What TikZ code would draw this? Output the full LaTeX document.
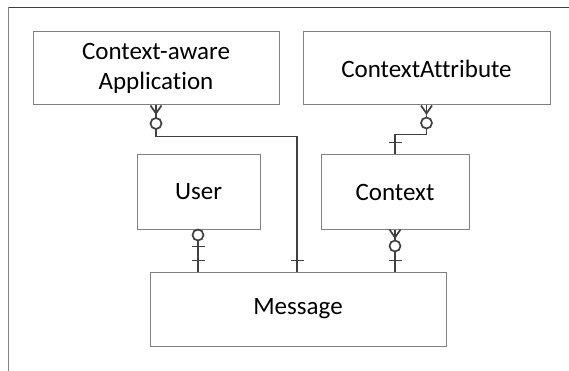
\documentclass[tikz,border=0pt]{standalone}
\usepackage{fontspec}
\setmainfont[Ligatures={NoCommon}]{Carlito}
\usetikzlibrary{calc}
\definecolor{boxgray}{HTML}{808080}
\definecolor{linegray}{HTML}{404040}
\begin{document}
\begin{tikzpicture}[x=1pt,y=-1pt,
  entity/.style={draw=boxgray, line width=1pt, fill=white, minimum height=74pt,
    inner sep=0pt, align=center, font=\fontsize{25}{30}\selectfont},
  rel/.style={draw=linegray, line width=1.7pt},
  crowfoot/.pic={\draw[rel] (-5.5,0) -- (0,8) -- (5.5,0);},
  ringmark/.pic={\draw[rel, fill=white] (0,0) circle[radius=5.5];},
  barmark/.pic={\draw[rel] (-6.5,0) -- (6.5,0);}]
\useasboundingbox (0,0) rectangle (569,371);

% page frame
\draw[draw=linegray, line width=1pt] (8,7.5) -- (569,7.5);
\draw[draw=boxgray, line width=1pt] (8,7.5) -- (8,371);

% entities
\node[entity, minimum width=246pt, minimum height=73pt] (app) at (156,68.5) {Context-aware\\Application};
\node[entity, minimum width=247pt, minimum height=73pt] (ca) at (426.5,68.5) {ContextAttribute};
\node[entity, minimum width=123pt] (user) at (198.5,192) {User};
\node[entity, minimum width=148pt] (ctx) at (395,192) {Context};
\node[entity, minimum width=296pt] (msg) at (298,309) {Message};

% relationships
\draw[rel] (app.south) -- ++(0,31) -| ([xshift=-1pt]msg.north);
\draw[rel] (ca.south) -- ++(0,29) -| (ctx.north);
\draw[rel] ([xshift=-0.5pt]user.south) -- ([xshift=-0.5pt]user.south |- msg.north);
\draw[rel] (ctx.south) -- (ctx.south |- msg.north);

% cardinality marks
\pic at (app.south) {crowfoot};
\pic at ($(app.south)+(0,18)$) {ringmark};
\pic at ($([xshift=-1pt]msg.north)+(0,-11)$) {barmark};

\pic at (ca.south) {crowfoot};
\pic at ($(ca.south)+(0,17.5)$) {ringmark};
\pic at ($(ctx.north)+(0,-12)$) {barmark};

\pic at ($([xshift=-0.5pt]user.south)+(0,5.5)$) {ringmark};
\pic at ($([xshift=-0.5pt]user.south)+(0,17)$) {barmark};
\pic at ($([xshift=-0.5pt]user.south |- msg.north)+(0,-11)$) {barmark};

\pic at (ctx.south) {crowfoot};
\pic at ($(ctx.south)+(0,16.5)$) {ringmark};
\pic at ($(ctx.south |- msg.north)+(0,-11)$) {barmark};
\end{tikzpicture}
\end{document}
